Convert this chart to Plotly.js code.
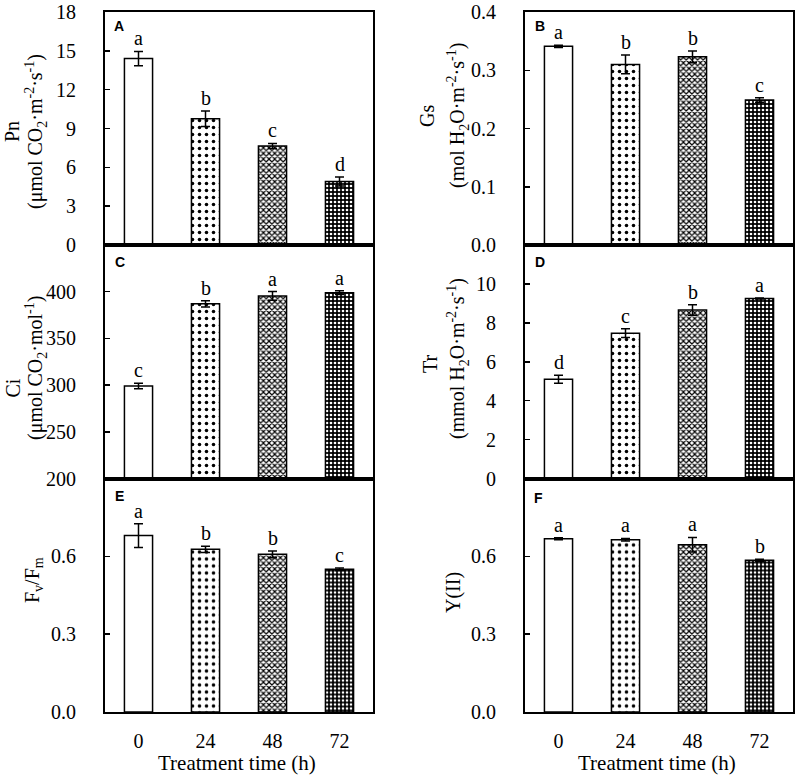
<!DOCTYPE html>
<html>
<head>
<meta charset="utf-8">
<script src="https://cdn.plot.ly/plotly-3.0.0.min.js"></script>
<style>html,body{margin:0;padding:0;background:#fff}#chart{width:800px;height:777px}</style>
</head>
<body>
<div id="chart"></div>
<script>
// ---- data ----
const categories = ['0', '24', '48', '72'];

const pnValues = [14.4, 9.75, 7.65, 4.9];
const pnErrors = [0.55, 0.6, 0.2, 0.35];
const pnLetters = ['a', 'b', 'c', 'd'];

const gsValues = [0.341, 0.310, 0.323, 0.249];
const gsErrors = [0.002, 0.016, 0.010, 0.004];
const gsLetters = ['a', 'b', 'b', 'c'];

const ciValues = [299, 387, 395.5, 399];
const ciErrors = [3, 3.4, 4.6, 2];
const ciLetters = ['c', 'b', 'a', 'a'];

const trValues = [5.1, 7.47, 8.66, 9.25];
const trErrors = [0.2, 0.22, 0.27, 0.03];
const trLetters = ['d', 'c', 'b', 'a'];

const fvfmValues = [0.680, 0.627, 0.608, 0.550];
const fvfmErrors = [0.046, 0.012, 0.013, 0.005];
const fvfmLetters = ['a', 'b', 'b', 'c'];

const yiiValues = [0.668, 0.664, 0.645, 0.585];
const yiiErrors = [0.004, 0.005, 0.028, 0.004];
const yiiLetters = ['a', 'a', 'a', 'b'];

const xTitle = 'Treatment time (h)';

// ---- layout helpers ----
const W = 800, H = 777;
const px = x => x / W;
const py = y => 1 - y / H;
const serif = 'Liberation Serif, Times New Roman, serif';
const sans = 'Liberation Sans, Arial, sans-serif';
const FS = 20;

const colX = { L: [105, 373], R: [525, 793] };
const rowY = { 1: [12, 245], 2: [245, 478.5], 3: [478.5, 712] };

const panels = [
  { id: 'A', col: 'L', row: 1, v: pnValues, e: pnErrors, l: pnLetters, range: [0, 18],
    tickvals: [0, 3, 6, 9, 12, 15, 18], ticktext: ['0','3','6','9','12','15','18'],
    titles: [{ t: 'Pn', x: 12, y: 132 }, { t: '(μmol CO<sub>2</sub>·m<sup>-2</sup>·s<sup>-1</sup>)', x: 36, y: 132 }],
    lab: [112, 26] },
  { id: 'B', col: 'R', row: 1, v: gsValues, e: gsErrors, l: gsLetters, range: [0, 0.4],
    tickvals: [0, 0.1, 0.2, 0.3, 0.4], ticktext: ['0.0','0.1','0.2','0.3','0.4'],
    titles: [{ t: 'Gs', x: 427, y: 116 }, { t: '(mol H<sub>2</sub>O·m<sup>-2</sup>·s<sup>-1</sup>)', x: 458, y: 116 }],
    lab: [533, 26] },
  { id: 'C', col: 'L', row: 2, v: ciValues, e: ciErrors, l: ciLetters, range: [200, 450],
    tickvals: [200, 250, 300, 350, 400], ticktext: ['200','250','300','350','400'],
    titles: [{ t: 'Ci', x: 12.5, y: 388 }, { t: '(μmol CO<sub>2</sub>·mol<sup>-1</sup>)', x: 36, y: 368 }],
    lab: [113, 262] },
  { id: 'D', col: 'R', row: 2, v: trValues, e: trErrors, l: trLetters, range: [0, 12],
    tickvals: [0, 2, 4, 6, 8, 10], ticktext: ['0','2','4','6','8','10'],
    titles: [{ t: 'Tr', x: 430, y: 364 }, { t: '(mmol H<sub>2</sub>O·m<sup>-2</sup>·s<sup>-1</sup>)', x: 458, y: 359 }],
    lab: [533, 262] },
  { id: 'E', col: 'L', row: 3, v: fvfmValues, e: fvfmErrors, l: fvfmLetters, range: [0, 0.9],
    tickvals: [0, 0.3, 0.6], ticktext: ['0.0','0.3','0.6'],
    titles: [{ t: 'F<sub>v</sub>/F<sub>m</sub>', x: 33, y: 580 }],
    lab: [113, 496] },
  { id: 'F', col: 'R', row: 3, v: yiiValues, e: yiiErrors, l: yiiLetters, range: [0, 0.9],
    tickvals: [0, 0.3, 0.6], ticktext: ['0.0','0.3','0.6'],
    titles: [{ t: 'Y(II)', x: 453, y: 593 }],
    lab: [532, 498] }
];

const pattern = {
  shape: ['', '.', 'x', '.'],
  fgcolor: ['#000', '#000', '#000', '#fff'],
  bgcolor: ['#fff', '#fff', '#fff', '#000'],
  size: [8, 7, 4, 4],
  solidity: [0.2, 0.2, 0.5, 0.35],
  fillmode: 'replace'
};

const data = [];
const layout = {
  width: W, height: H,
  margin: { l: 0, r: 0, t: 0, b: 0 },
  paper_bgcolor: '#fff', plot_bgcolor: '#fff',
  showlegend: false,
  bargap: 0.58,
  font: { family: serif, size: FS, color: '#000' },
  annotations: []
};

panels.forEach((p, i) => {
  const n = i + 1;
  const xa = 'x' + (n === 1 ? '' : n), ya = 'y' + (n === 1 ? '' : n);
  const xk = 'xaxis' + (n === 1 ? '' : n), yk = 'yaxis' + (n === 1 ? '' : n);
  data.push({
    type: 'bar', x: categories, y: p.v, xaxis: xa, yaxis: ya,
    marker: { color: '#fff', line: { color: '#000', width: 1.5 }, pattern: pattern },
    error_y: { type: 'data', array: p.e, visible: true, color: '#000', thickness: 1.5, width: 4.5 },
    hoverinfo: 'skip'
  });
  const [x0, x1] = colX[p.col];
  const [t0, t1] = rowY[p.row];
  layout[xk] = {
    domain: [px(x0), px(x1)], anchor: ya, type: 'category',
    categoryorder: 'array', categoryarray: categories,
    range: [-0.5, categories.length - 0.5], autorange: false,
    showline: true, linecolor: '#000', linewidth: 2, mirror: true,
    ticks: '', showgrid: false, zeroline: false,
    showticklabels: p.row === 3, ticklabelstandoff: 10,
    tickfont: { family: serif, size: FS, color: '#000' },
    fixedrange: true
  };
  layout[yk] = {
    domain: [py(t1), py(t0)], anchor: xa, range: p.range, autorange: false,
    showline: true, linecolor: '#000', linewidth: 2, mirror: true,
    ticks: 'inside', ticklen: 5, tickwidth: 1.5, tickcolor: '#000',
    tickvals: p.tickvals, ticktext: p.ticktext,
    ticklabelstandoff: 23,
    tickfont: { family: serif, size: FS, color: '#000' },
    showgrid: false, zeroline: false, fixedrange: true
  };
  // significance letters (x given as category index)
  p.l.forEach((letter, k) => {
    layout.annotations.push({
      x: k, y: p.v[k] + p.e[k], xref: xa, yref: ya,
      text: letter, showarrow: false, yanchor: 'bottom', xanchor: 'center', yshift: 0,
      font: { family: serif, size: FS, color: '#000' }
    });
  });
  // y titles
  p.titles.forEach(t => {
    layout.annotations.push({
      x: px(t.x), y: py(t.y), xref: 'paper', yref: 'paper',
      text: t.t, textangle: -90, showarrow: false, xanchor: 'center', yanchor: 'middle',
      font: { family: serif, size: FS, color: '#000' }
    });
  });
  // panel label
  layout.annotations.push({
    x: px(p.lab[0]), y: py(p.lab[1]), xref: 'paper', yref: 'paper',
    text: '<b>' + p.id + '</b>', showarrow: false, xanchor: 'left', yanchor: 'middle',
    font: { family: sans, size: 14, color: '#000' }
  });
  // x title
  if (p.row === 3) {
    layout.annotations.push({
      x: px((x0 + x1) / 2 - 2), y: py(763), xref: 'paper', yref: 'paper',
      text: xTitle, showarrow: false, xanchor: 'center', yanchor: 'middle',
      font: { family: serif, size: 21, color: '#000' }
    });
  }
});

Plotly.newPlot('chart', data, layout, { displayModeBar: false, staticPlot: true });
</script>
</body>
</html>
